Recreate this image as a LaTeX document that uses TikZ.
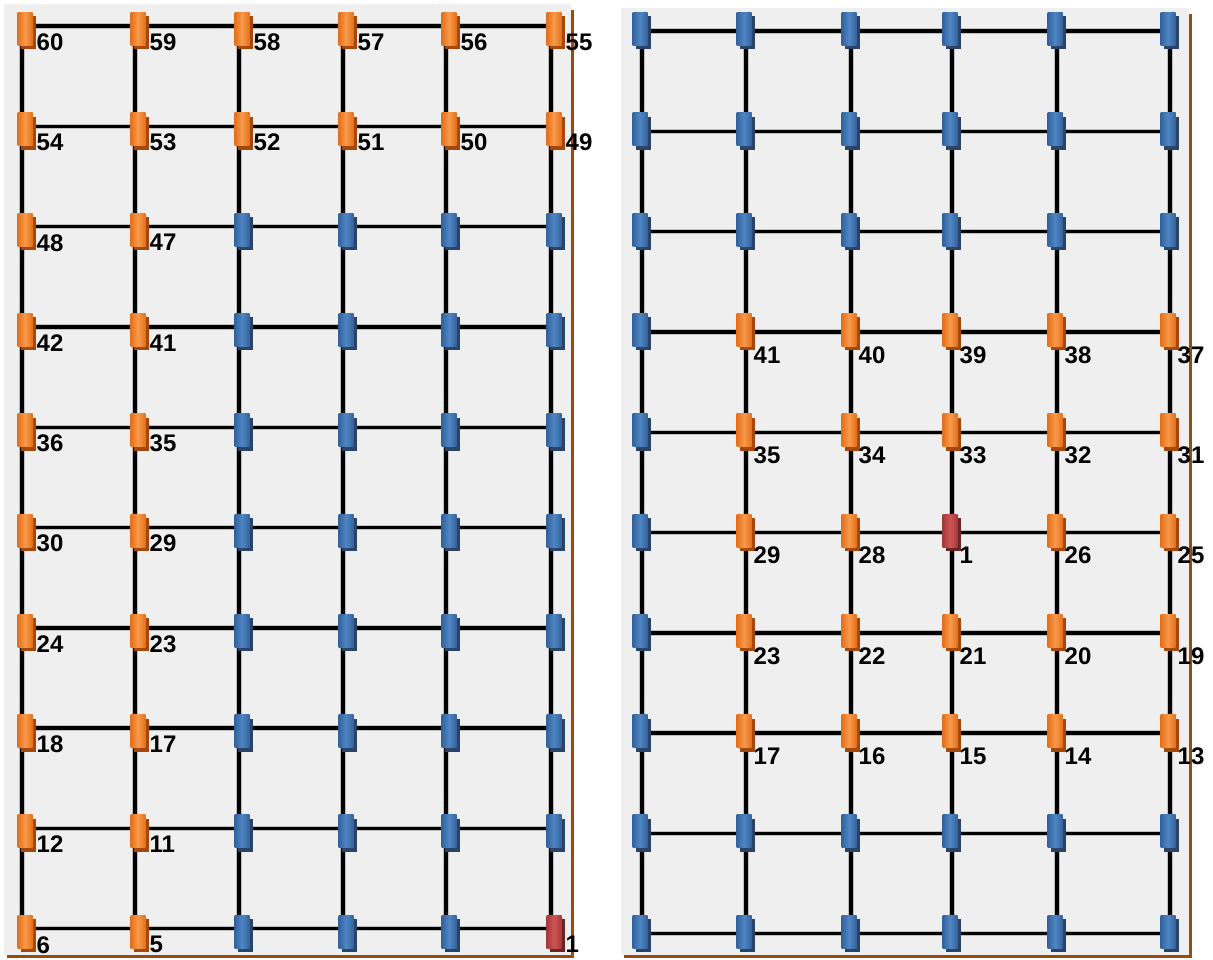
\documentclass[tikz,border=0pt]{standalone}
\usepackage{xcolor}
\usepackage{fontspec}
\setmainfont{Liberation Sans}
\usetikzlibrary{shadows}
\definecolor{panelgray}{HTML}{EFEFEF}
\definecolor{framebrown}{HTML}{9A4A0C}
\definecolor{padorange}{HTML}{E6701A}
\definecolor{padorangelight}{HTML}{F79A4C}
\definecolor{padorangedark}{HTML}{A4480C}
\definecolor{padblue}{HTML}{34629C}
\definecolor{padbluelight}{HTML}{4E86C4}
\definecolor{padbluedark}{HTML}{2A4468}
\definecolor{padred}{HTML}{A63838}
\definecolor{padredlight}{HTML}{CC5656}
\definecolor{padreddark}{HTML}{6A2626}

\begin{document}
\begin{tikzpicture}[x=1pt, y=-1pt,
  gridline/.style={draw=black, line width=3.4pt, preaction={draw=black!25, line width=5.4pt}},
  pad/.style={minimum width=15pt, minimum height=33pt, inner sep=0pt, outer sep=0pt},
  orangepad/.style={pad, general shadow={fill=padorangedark, shadow xshift=3pt, shadow yshift=-4pt},
    left color=padorange, right color=padorange, middle color=padorangelight},
  bluepad/.style={pad, general shadow={fill=padbluedark, shadow xshift=3pt, shadow yshift=-4pt},
    left color=padblue, right color=padblue, middle color=padbluelight},
  redpad/.style={pad, general shadow={fill=padreddark, shadow xshift=3pt, shadow yshift=-4pt},
    left color=padred, right color=padred, middle color=padredlight},
  padlabel/.style={font=\bfseries\fontsize{24}{24}\selectfont, inner sep=0pt, anchor=north west}]
  \useasboundingbox (0,0) rectangle (1213,960);

  % panels
  \fill[panelgray] (4,4) rectangle (571,955);
  \fill[panelgray] (621,8) rectangle (1189,955);
  \draw[framebrown, line width=3pt] (572,10) -- (572,956) -- (7,956);
  \draw[framebrown, line width=3pt] (1190,14) -- (1190,956) -- (624,956);

  % grid points
  \foreach \xx [count=\c from 0] in {22,135,239,343,446,551}
    \foreach \r in {0,...,9}
      \coordinate (L-\r-\c) at (\xx, {26+100.3*\r});
  \foreach \xx [count=\c from 0] in {642,746,851,952,1057,1170}
    \foreach \r in {0,...,9}
      \coordinate (R-\r-\c) at (\xx, {31+100.3*\r});

  % grid lines
  \foreach \r in {0,...,9} {
    \draw[gridline] (L-\r-0) -- (L-\r-5);
    \draw[gridline] (R-\r-0) -- (R-\r-5);
  }
  \foreach \c in {0,...,5} {
    \draw[gridline] (L-0-\c) -- (L-9-\c);
    \draw[gridline] (R-0-\c) -- (R-9-\c);
  }

  % left pads
  \foreach \r in {0,...,9}
    \foreach \c in {0,...,5} {
      \pgfmathtruncatemacro{\num}{60-6*\r-\c}
      \pgfmathtruncatemacro{\kind}{(\r==9 && \c==5) ? 2 : ((\r<2 || \c<2) ? 1 : 0)}
      \ifcase\kind
        \node[bluepad] (Lp-\r-\c) at ([shift={(3,3)}]L-\r-\c) {};
      \or
        \node[orangepad] (Lp-\r-\c) at ([shift={(3,3)}]L-\r-\c) {};
        \node[padlabel] (Ll-\r-\c) at ([shift={(4,-12)}]Lp-\r-\c.south east) {\num};
      \or
        \node[redpad] (Lp-\r-\c) at ([shift={(3,3)}]L-\r-\c) {};
        \node[padlabel] (Ll-\r-\c) at ([shift={(4,-12)}]Lp-\r-\c.south east) {\num};
      \fi
    }

  % right pads
  \foreach \r in {0,...,9}
    \foreach \c in {0,...,5} {
      \pgfmathtruncatemacro{\kind}{(\r==5 && \c==3) ? 2 : ((\r>2 && \r<8 && \c>0) ? 1 : 0)}
      \pgfmathtruncatemacro{\num}{\kind==2 ? 1 : 60-6*\r-\c}
      \ifcase\kind
        \node[bluepad] (Rp-\r-\c) at ([shift={(-2,-2)}]R-\r-\c) {};
      \or
        \node[orangepad] (Rp-\r-\c) at ([shift={(-2,-2)}]R-\r-\c) {};
        \node[padlabel] (Rl-\r-\c) at ([shift={(2,0)}]Rp-\r-\c.south east) {\num};
      \or
        \node[redpad] (Rp-\r-\c) at ([shift={(-2,-2)}]R-\r-\c) {};
        \node[padlabel] (Rl-\r-\c) at ([shift={(2,0)}]Rp-\r-\c.south east) {\num};
      \fi
    }
\end{tikzpicture}
\end{document}
